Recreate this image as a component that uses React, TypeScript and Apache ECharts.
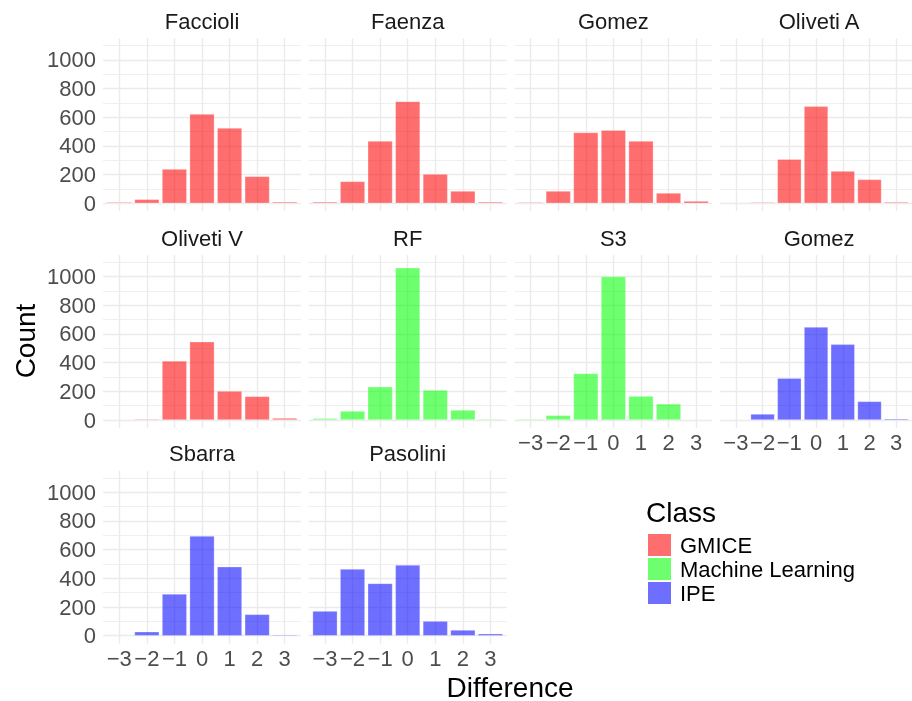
import React, { useEffect, useRef } from 'react';
import * as echarts from 'echarts';

// ---- data ----
const DIFF = [-3, -2, -1, 0, 1, 2, 3];
const Y_TICKS = [0, 200, 400, 600, 800, 1000];
const Y_MINOR = [100, 300, 500, 700, 900, 1100];

const FACCIOLI = [4, 28, 239, 622, 525, 188, 10];
const FAENZA = [10, 153, 434, 710, 204, 86, 10];
const GOMEZ_GMICE = [3, 86, 494, 509, 434, 72, 16];
const OLIVETI_A = [0, 2, 307, 676, 225, 167, 9];
const OLIVETI_V = [0, 5, 411, 546, 202, 165, 14];
const RF = [12, 63, 232, 1061, 209, 70, 5];
const S3 = [4, 33, 325, 1000, 167, 113, 0];
const GOMEZ_IPE = [0, 42, 292, 648, 528, 130, 9];
const SBARRA = [0, 28, 291, 695, 481, 149, 7];
const PASOLINI = [172, 465, 365, 493, 102, 40, 14];

const PANEL_NAMES = ['Faccioli', 'Faenza', 'Gomez', 'Oliveti A', 'Oliveti V', 'RF', 'S3', 'Gomez', 'Sbarra', 'Pasolini'];
const PANEL_CLASSES = ['GMICE', 'GMICE', 'GMICE', 'GMICE', 'GMICE', 'Machine Learning', 'Machine Learning', 'IPE', 'IPE', 'IPE'];
const PANEL_COUNTS = [FACCIOLI, FAENZA, GOMEZ_GMICE, OLIVETI_A, OLIVETI_V, RF, S3, GOMEZ_IPE, SBARRA, PASOLINI];
const CLASSES = ['GMICE', 'Machine Learning', 'IPE'];

// ---- styles / layout ----
const CLASS_COLORS: Record<string, string> = {
  GMICE: 'rgba(255,0,0,0.57)',
  'Machine Learning': 'rgba(0,255,0,0.57)',
  IPE: 'rgba(0,0,255,0.57)',
};
const FONT = '"Liberation Sans", Arial, Helvetica, sans-serif';
const COL_LEFT = [103, 308.7, 514.4, 720.1];
const ROW_TOP = [38.3, 255, 470.7];
const PANEL_W = 198;
const PANEL_H = 172.9;
const X_MIN = -3.59;
const X_MAX = 3.59;
const Y_MIN = -55;
const Y_MAX = 1150;
const STRIP_Y = [21.5, 238, 453.5];

const fmtX = (v: number) => (v < 0 ? '\u2212' + Math.abs(v) : String(v));
const fmtY = (v: number) => String(v);

export default function App() {
  const ref = useRef<HTMLDivElement>(null);
  useEffect(() => {
    if (!ref.current) return;
    const chart = echarts.init(ref.current, null, { renderer: 'svg' });
    const grids: any[] = [];
    const xAxes: any[] = [];
    const yAxes: any[] = [];
    const series: any[] = [];
    const graphics: any[] = [];
    PANEL_NAMES.forEach((name, i) => {
      const row = Math.floor(i / 4);
      const col = i % 4;
      const left = COL_LEFT[col];
      const top = ROW_TOP[row];
      grids.push({ left, top, width: PANEL_W, height: PANEL_H, containLabel: false });
      xAxes.push({
        type: 'value',
        gridIndex: i,
        min: X_MIN,
        max: X_MAX,
        axisLine: { show: false, onZero: false },
        axisTick: { show: false, customValues: DIFF },
        axisLabel: {
          show: i >= 6,
          customValues: DIFF,
          interval: 0,
          formatter: fmtX,
          fontSize: 22,
          color: '#4D4D4D',
          fontFamily: FONT,
          margin: 4,
        },
        splitLine: { show: true, lineStyle: { color: '#EBEBEB', width: 1.4 } },
      });
      yAxes.push({
        type: 'value',
        gridIndex: i,
        min: Y_MIN,
        max: Y_MAX,
        axisLine: { show: false, onZero: false },
        axisTick: { show: false, customValues: Y_TICKS },
        axisLabel: {
          show: col === 0,
          customValues: Y_TICKS,
          formatter: fmtY,
          fontSize: 22,
          color: '#4D4D4D',
          fontFamily: FONT,
          margin: 7,
        },
        splitLine: { show: true, lineStyle: { color: '#EBEBEB', width: 1.4 } },
      });
      const cls = PANEL_CLASSES[i];
      const counts = PANEL_COUNTS[i];
      series.push({
        type: 'bar',
        name: cls,
        xAxisIndex: i,
        yAxisIndex: i,
        barWidth: '90%',
        barMinHeight: 1,
        data: DIFF.map((d, k) => [d, counts[k]]).filter((p) => p[1] > 0),
        itemStyle: { color: CLASS_COLORS[cls], borderColor: 'rgba(255,255,255,0.45)', borderWidth: 0.6 },
        markLine: {
          silent: true,
          z: 1,
          symbol: ['none', 'none'],
          label: { show: false },
          lineStyle: { color: '#EBEBEB', width: 0.8, type: 'solid' },
          data: Y_MINOR.map((v) => ({ yAxis: v })),
        },
      });
      graphics.push({
        type: 'text',
        x: left + PANEL_W / 2,
        y: STRIP_Y[row],
        style: {
          text: name,
          fontSize: 22,
          fontFamily: FONT,
          fill: '#1A1A1A',
          textAlign: 'center',
          textVerticalAlign: 'middle',
        },
      });
    });
    graphics.push({
      type: 'text',
      x: 25,
      y: 341,
      rotation: Math.PI / 2,
      style: { text: 'Count', fontSize: 28, fontFamily: FONT, fill: '#000', textAlign: 'center', textVerticalAlign: 'middle' },
    });
    graphics.push({
      type: 'text',
      x: 510,
      y: 687,
      style: { text: 'Difference', fontSize: 28, fontFamily: FONT, fill: '#000', textAlign: 'center', textVerticalAlign: 'middle' },
    });
    graphics.push({
      type: 'text',
      x: 646,
      y: 512,
      style: { text: 'Class', fontSize: 28, fontFamily: FONT, fill: '#000', textAlign: 'left', textVerticalAlign: 'middle' },
    });

    chart.setOption({
      animation: false,
      grid: grids,
      xAxis: xAxes,
      yAxis: yAxes,
      series,
      legend: {
        data: CLASSES,
        orient: 'vertical',
        left: 648,
        top: 534,
        padding: 0,
        itemWidth: 23,
        itemHeight: 22,
        itemGap: 2,
        icon: 'rect',
        selectedMode: false,
        itemStyle: { borderWidth: 0 },
        textStyle: { fontSize: 22, color: '#000', fontFamily: FONT, padding: [0, 0, 0, 4] },
      },
      graphic: graphics,
    });
    return () => chart.dispose();
  }, []);
  return <div ref={ref} style={{ position: 'fixed', left: 0, top: 0, width: 912, height: 701 }} />;
}
